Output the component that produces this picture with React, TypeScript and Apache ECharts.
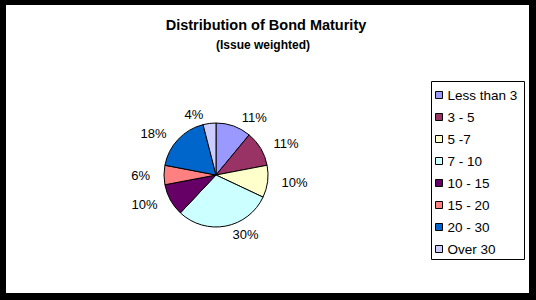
import React, { useEffect, useRef } from "react";
import * as echarts from "echarts";

const categories = ["Less than 3", "3 - 5", "5 -7", "7 - 10", "10 - 15", "15 - 20", "20 - 30", "Over 30"];
const values = [11, 11, 10, 30, 10, 6, 18, 4];
const colors = ["#9999FF", "#993366", "#FFFFCC", "#CCFFFF", "#660066", "#FF8080", "#0066CC", "#CCCCFF"];
const titleText = "Distribution of Bond Maturity";
const subtitleText = "(Issue weighted)";

const FONT = "'Liberation Sans', Arial, sans-serif";

export default function App() {
  const ref = useRef<HTMLDivElement>(null);
  useEffect(() => {
    if (!ref.current) return;
    const chart = echarts.init(ref.current, null, { renderer: "svg" });
    chart.setOption({
      animation: false,
      backgroundColor: "#000000",
      graphic: [
        { type: "rect", z: -10, shape: { x: 6, y: 5, width: 523, height: 288 }, style: { fill: "#ffffff" } },
        {
          type: "rect",
          z: -5,
          shape: { x: 431.5, y: 81.5, width: 93, height: 178 },
          style: { fill: "#ffffff", stroke: "#000000", lineWidth: 1 },
        },
        {
          type: "text",
          x: 266,
          y: 25,
          style: {
            text: titleText,
            fill: "#000",
            font: `bold 14.5px ${FONT}`,
            textAlign: "center",
            textVerticalAlign: "middle",
          },
        },
        {
          type: "text",
          x: 263,
          y: 45,
          style: {
            text: subtitleText,
            fill: "#000",
            font: `bold 12px ${FONT}`,
            textAlign: "center",
            textVerticalAlign: "middle",
          },
        },
      ],
      legend: {
        orient: "vertical",
        left: 435,
        top: 88,
        padding: 0,
        itemWidth: 7,
        itemHeight: 7,
        itemGap: 8,
        icon: "rect",
        itemStyle: { borderColor: "#000", borderWidth: 1 },
        textStyle: { fontSize: 13.5, lineHeight: 14, color: "#000", fontFamily: FONT },
        data: categories,
        selectedMode: false,
      },
      series: [
        {
          type: "pie",
          center: [216, 175],
          radius: 52,
          startAngle: 90,
          clockwise: true,
          avoidLabelOverlap: false,
          itemStyle: { borderColor: "#000", borderWidth: 1 },
          label: {
            show: true,
            position: "outside",
            formatter: "{c}%",
            color: "#000",
            fontSize: 13,
            fontFamily: FONT,
          },
          labelLine: { show: false, length: 9, length2: 0 },
          emphasis: { disabled: true },
          data: categories.map((name, i) => ({ name, value: values[i], itemStyle: { color: colors[i] } })),
        },
      ],
    });
    return () => chart.dispose();
  }, []);
  return <div ref={ref} style={{ position: "absolute", left: 0, top: 0, width: 536, height: 300 }} />;
}
